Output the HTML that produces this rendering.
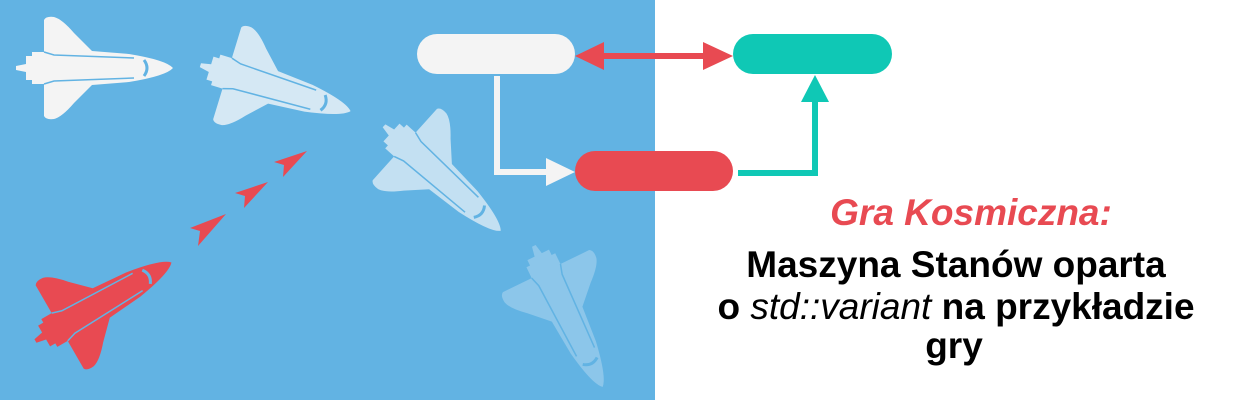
<!DOCTYPE html>
<html><head><meta charset="utf-8"><style>
html,body{margin:0;padding:0;background:#fff;}
svg{display:block;}
</style></head><body>
<svg width="1250" height="400" viewBox="0 0 1250 400" xmlns="http://www.w3.org/2000/svg">
<defs>
<path id="sh" d="M-62,-16 L-50,-16 L-50,-48 Q-48,-52 -40,-51 Q-32,-49 -20,-35 L-2,-17 L35,-14 Q72,-8 79,0 Q72,8 35,14 L-2,17 L-20,35 Q-32,49 -40,51 Q-48,52 -50,48 L-50,16 L-62,16 L-62,12 L-68,12 L-68,4 L-78,2 L-78,-2 L-68,-4 L-68,-12 L-62,-12 Z"/>
<g id="det" fill="none" stroke="#62b3e3" stroke-width="1.5">
  <path d="M-50,-16 L-40,-13 L40,-10"/>
  <path d="M-50,16 L-40,13 L40,10"/>
  <path d="M50,-8 Q56,0 50,8" stroke-width="3"/>
</g>
</defs>
<rect x="0" y="0" width="655" height="400" fill="#62b3e3"/>
<g transform="translate(94,68)"><use href="#sh" fill="#f4f4f4"/><use href="#det"/></g>
<g transform="translate(275,88) rotate(17)"><use href="#sh" fill="#d5e8f4"/><use href="#det"/></g>
<g transform="translate(442,178) rotate(42)"><use href="#sh" fill="#c3e0f2"/><use href="#det"/></g>
<g transform="translate(568,316) rotate(64)"><use href="#sh" fill="#8cc6ea"/><use href="#det"/></g>
<g transform="translate(103,302) rotate(-30)"><use href="#sh" fill="#e84a52"/><use href="#det"/></g>
<g fill="#e84a52">
  <path d="M307,151 L274,162 L284,165 L283,177 Z"/>
  <path d="M268,182 L235,193 L245,196 L244,208 Z"/>
  <path d="M226,214 L190,228 L200,231 L198,246 Z"/>
</g>
<rect x="417" y="34" width="158" height="40" rx="20" fill="#f4f4f4"/>
<rect x="733" y="34" width="159" height="40" rx="20" fill="#0fc8b5"/>
<rect x="575" y="151" width="158" height="40" rx="20" fill="#e84a52"/>
<rect x="600" y="53" width="107" height="6" fill="#e84a52"/>
<path d="M575,56 L604,42 L604,70 Z" fill="#e84a52"/>
<path d="M733,56 L703,42 L703,70 Z" fill="#e84a52"/>
<path d="M497,76 L497,172 L550,172" stroke="#f4f4f4" stroke-width="6" fill="none"/>
<path d="M575,172 L546,158 L546,186 Z" fill="#f4f4f4"/>
<path d="M738,173 L815,173 L815,98" stroke="#0fc8b5" stroke-width="6" fill="none"/>
<path d="M815,75 L801,102 L829,102 Z" fill="#0fc8b5"/>
<g font-family="'Liberation Sans', Arial, sans-serif" font-weight="bold" text-anchor="middle" font-size="37">
  <text x="971" y="225" font-style="italic" fill="#e84a52">Gra Kosmiczna:</text>
  <text x="956" y="277" fill="#000">Maszyna Stanów oparta</text>
  <text x="956" y="319" fill="#000">o <tspan font-style="italic" font-weight="normal">std::variant</tspan> na przykładzie</text>
  <text x="954" y="358" fill="#000">gry</text>
</g>
</svg>
</body></html>
